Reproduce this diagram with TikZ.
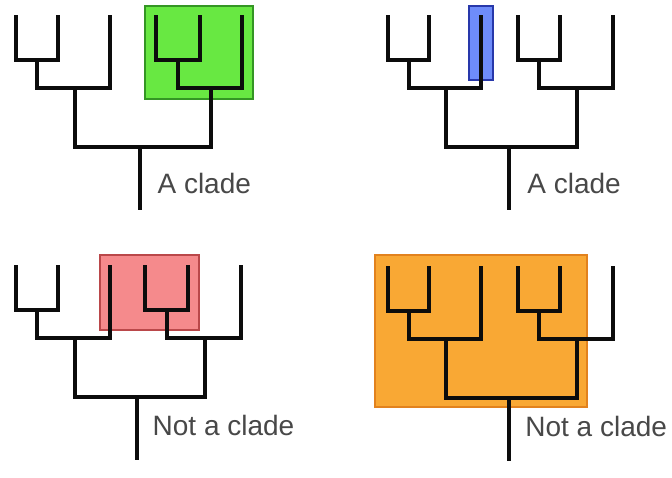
\documentclass[tikz,border=0pt]{standalone}
\usepackage{fontspec}
\setmainfont{Liberation Sans}
\usetikzlibrary{calc}
\definecolor{ink}{RGB}{12,12,12}
\definecolor{labgray}{RGB}{72,72,72}
\definecolor{cladegreen}{RGB}{104,232,66}
\definecolor{cladegreenfr}{RGB}{52,150,36}
\definecolor{cladeblue}{RGB}{110,140,250}
\definecolor{cladebluefr}{RGB}{40,56,170}
\definecolor{nocladered}{RGB}{245,138,140}
\definecolor{nocladeredfr}{RGB}{186,72,74}
\definecolor{nocladeorange}{RGB}{249,168,52}
\definecolor{nocladeorangefr}{RGB}{226,130,30}
\tikzset{
  branch/.style={draw=ink, line width=4pt},
  gbox/.style={draw=cladegreenfr, fill=cladegreen, line width=1.6pt},
  bbox/.style={draw=cladebluefr, fill=cladeblue, line width=1.6pt},
  rbox/.style={draw=nocladeredfr, fill=nocladered, line width=1.6pt},
  obox/.style={draw=nocladeorangefr, fill=nocladeorange, line width=1.2pt},
  lab/.style={font=\fontsize{28}{30}\selectfont, text=labgray, inner sep=0pt,
    anchor=base west},
}
% one cladogram ((1,2),3),((4,5),6): prefix, top y, six leaf x
\newcommand{\cladetree}[8]{%
  \coordinate (#1leaf1) at (#3,#2);
  \coordinate (#1leaf2) at (#4,#2);
  \coordinate (#1leaf3) at (#5,#2);
  \coordinate (#1leaf4) at (#6,#2);
  \coordinate (#1leaf5) at (#7,#2);
  \coordinate (#1leaf6) at (#8,#2);
  \coordinate (#1n12) at ($(#1leaf1)!0.5!(#1leaf2)+(0,45)$);
  \coordinate (#1n45) at ($(#1leaf4)!0.5!(#1leaf5)+(0,45)$);
  \coordinate (#1n123) at ($(#1leaf1)!0.5!(#1leaf2)!0.52!(#1leaf3)+(0,73)$);
  \coordinate (#1n456) at ($(#1leaf4)!0.5!(#1leaf5)!0.52!(#1leaf6)+(0,73)$);
  \coordinate (#1root) at ($(#1n123)!0.48!(#1n456)+(0,59)$);
  \coordinate (#1base) at ($(#1root)+(0,63)$);
  \draw[branch] (#1leaf1) |- (#1n12) -| (#1leaf2);
  \draw[branch] (#1leaf4) |- (#1n45) -| (#1leaf5);
  \draw[branch] (#1n12) |- (#1n123) -| (#1leaf3);
  \draw[branch] (#1n45) |- (#1n456) -| (#1leaf6);
  \draw[branch] (#1n123) |- (#1root) -| (#1n456);
  \draw[branch] (#1root) -- (#1base);
}
\begin{document}
\begin{tikzpicture}[x=1pt, y=-1pt]
  \useasboundingbox[fill=white] (0,0) rectangle (672,477);
  % highlight boxes
  \draw[gbox] (145,6) rectangle (253,99);
  \draw[bbox] (469,6) rectangle (493,80);
  \draw[rbox] (100,255) rectangle (199,330);
  \draw[obox] (375,255) rectangle (587,407);
  % the four trees
  \cladetree{A}{15}{16}{58}{110}{156}{200}{242}
  \cladetree{B}{15}{388}{429}{481}{518}{560}{613}
  \cladetree{C}{265}{16}{58}{110}{145}{188}{241}
  \cladetree{D}{266}{388}{429}{481}{518}{560}{613}
  \node[lab] (labA) at ($(Aroot)+(17,46)$) {A clade};
  \node[lab] (labB) at ($(Broot)+(18,46)$) {A clade};
  \node[lab] (labC) at ($(Croot)+(15,38)$) {Not a clade};
  \node[lab] (labD) at ($(Droot)+(16,38)$) {Not a clade};
\end{tikzpicture}
\end{document}
